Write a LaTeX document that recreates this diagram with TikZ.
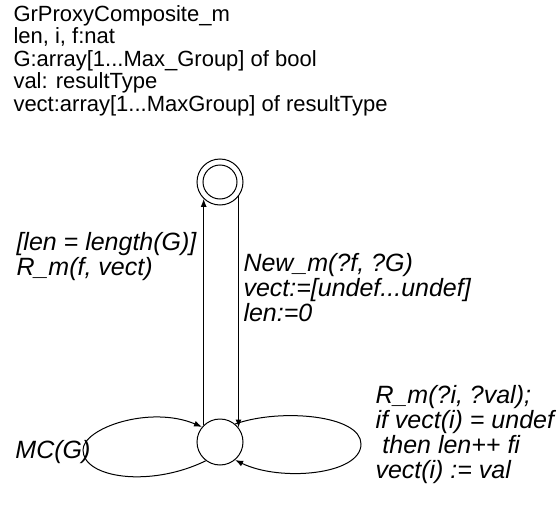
\documentclass[tikz,border=0pt]{standalone}
\usepackage{fontspec}
\setmainfont{Liberation Sans}
\usetikzlibrary{arrows.meta}
\begin{document}
\begin{tikzpicture}[x=1pt,y=-1pt,line width=1pt,
  state/.style={circle,draw,minimum size=46pt,inner sep=0pt},
  innerstate/.style={circle,draw,minimum size=34pt,inner sep=0pt},
  arr/.style={-{Latex[length=8pt,width=6pt]}},
  hdr/.style={anchor=base west,inner sep=0pt,font=\fontsize{22}{22.5}\selectfont},
  lbl/.style={anchor=base west,inner sep=0pt,font=\fontsize{25}{25}\selectfont\itshape}]
\useasboundingbox (0,0) rectangle (560,506);
% header
\node[hdr] (header) at (13,21) {\vtop{\baselineskip=22.5pt
  \hbox{GrProxyComposite\_m}
  \hbox{len, i, f:nat}
  \hbox{G:array[1...Max\_Group] of bool}
  \hbox{val: resultType}
  \hbox{vect:array[1...MaxGroup] of resultType}}};
% states
\node[state] (f) at (220,182) {};
\node[innerstate] (fi) at (220,182) {};
\node[state] (b) at (220,442) {};
% vertical transitions
\draw[arr] (b.134) -- (f.-134);
\draw[arr] (f.-38.5) -- (b.38.5);
% left loop
\draw[arr] (b.-127) .. controls (150,488) and (83,478) .. (83,450)
   .. controls (83,428) and (150,405) .. (b.140);
% right loop
\draw[arr] (b.50) .. controls (280,408) and (361,415) .. (361,444)
   .. controls (361,475) and (280,482) .. (b.-50);
% labels
\node[lbl] (guard) at (16,250) {\vtop{\baselineskip=25pt
  \hbox{[len = length(G)]}
  \hbox{R\_m(f, vect)}}};
\node[lbl] (newlbl) at (243,271) {\vtop{\baselineskip=25pt
  \hbox{New\_m(?f, ?G)}
  \hbox{vect:=[undef...undef]}
  \hbox{len:=0}}};
\node[lbl] (rlbl) at (375,403) {\vtop{\baselineskip=25pt
  \hbox{R\_m(?i, ?val);}
  \hbox{if vect(i) = undef}
  \hbox{\ then len++ fi}
  \hbox{vect(i) := val}}};
\node[lbl] (mclbl) at (15,458) {MC(G)};
\end{tikzpicture}
\end{document}
